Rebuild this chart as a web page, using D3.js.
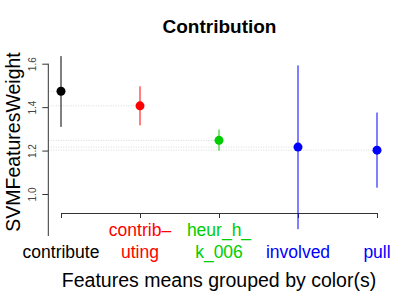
<!DOCTYPE html>
<html>
<head>
<meta charset="utf-8"/>
<title>Contribution</title>
<script src="https://d3js.org/d3.v7.min.js"></script>
<style>
	body { margin: 0; background: #fff; }
	text { font-family: "Liberation Sans", Arial, Helvetica, sans-serif; }
</style>
</head>
<body>
<svg width="415" height="297"></svg>
<script>
	// values
	var features = ["contribute", "contributing", "heur_h_k_006", "involved", "pull"];
	var labelLines = [["contribute"], ["contrib\u2013", "uting"], ["heur_h_", "k_006"], ["involved"], ["pull"]];
	var colors = ["#000000", "#ff0000", "#00cd00", "#0000ff", "#0000ff"];
	var means = [1.473, 1.406, 1.247, 1.216, 1.202];
	var lower = [1.309, 1.316, 1.199, 0.838, 1.029];
	var upper = [1.635, 1.496, 1.297, 1.592, 1.375];
	var yTicks = [1.0, 1.2, 1.4, 1.6];

	var svg = d3.select("svg");

	var x = d3.scalePoint().domain(features).range([61, 377]);
	var y = d3.scaleLinear().domain([1.0, 1.6]).range([194, 63.7]);
	var axisX = 48.3;

	// dotted guide lines from the y axis to each mean
	svg.append("g").selectAll("line")
		.data(features)
		.enter().append("line")
		.attr("x1", axisX)
		.attr("x2", function(d) { return x(d); })
		.attr("y1", function(d, i) { return y(means[i]); })
		.attr("y2", function(d, i) { return y(means[i]); })
		.attr("stroke", "#d8d8d8")
		.attr("stroke-width", 1)
		.attr("stroke-dasharray", "1,1.5");

	// y axis
	var gy = svg.append("g")
		.attr("transform", "translate(" + axisX + ",0)")
		.call(d3.axisLeft(y).tickValues(yTicks).tickSize(6).tickFormat(d3.format(".1f")));
	gy.select(".domain").remove();
	gy.selectAll(".tick line").attr("stroke", "#333");
	gy.selectAll(".tick text")
		.attr("x", 0).attr("dy", null)
		.attr("transform", "translate(-12,0) rotate(-90)")
		.attr("text-anchor", "middle")
		.attr("fill", "#444")
		.style("font-size", "10px");
	svg.append("line")
		.attr("x1", axisX).attr("x2", axisX)
		.attr("y1", y(1.6)).attr("y2", 236)
		.attr("stroke", "#333");

	// x axis
	var gx = svg.append("g")
		.attr("transform", "translate(0,213)")
		.call(d3.axisBottom(x).tickSize(5).tickSizeOuter(5).tickFormat(""));
	gx.select(".domain").attr("stroke", "#333");
	gx.selectAll(".tick line").attr("stroke", "#333");

	// error bars
	svg.append("g").selectAll("line")
		.data(features)
		.enter().append("line")
		.attr("x1", function(d) { return x(d); })
		.attr("x2", function(d) { return x(d); })
		.attr("y1", function(d, i) { return y(lower[i]); })
		.attr("y2", function(d, i) { return y(upper[i]); })
		.attr("stroke", function(d, i) { return colors[i]; })
		.attr("stroke-width", 1);

	// means
	svg.append("g").selectAll("circle")
		.data(features)
		.enter().append("circle")
		.attr("cx", function(d) { return x(d); })
		.attr("cy", function(d, i) { return y(means[i]); })
		.attr("r", 4.5)
		.attr("fill", function(d, i) { return colors[i]; });

	// category labels
	features.forEach(function(f, i) {
		var lines = labelLines[i];
		var t = svg.append("text")
			.attr("text-anchor", "middle")
			.attr("fill", colors[i])
			.style("font-size", "17.5px");
		lines.forEach(function(l, j) {
			t.append("tspan")
				.attr("x", x(f))
				.attr("y", 258 - (lines.length - 1 - j) * 22)
				.text(l);
		});
	});

	// titles
	svg.append("text")
		.attr("x", 219.5).attr("y", 33)
		.attr("text-anchor", "middle")
		.style("font-size", "19px").style("font-weight", "bold")
		.text("Contribution");

	svg.append("text")
		.attr("x", 219).attr("y", 286.5)
		.attr("text-anchor", "middle")
		.style("font-size", "19.5px")
		.text("Features means grouped by color(s)");

	svg.append("text")
		.attr("transform", "translate(20,142) rotate(-90)")
		.attr("text-anchor", "middle")
		.style("font-size", "19.5px")
		.text("SVMFeaturesWeight");
</script>
</body>
</html>
